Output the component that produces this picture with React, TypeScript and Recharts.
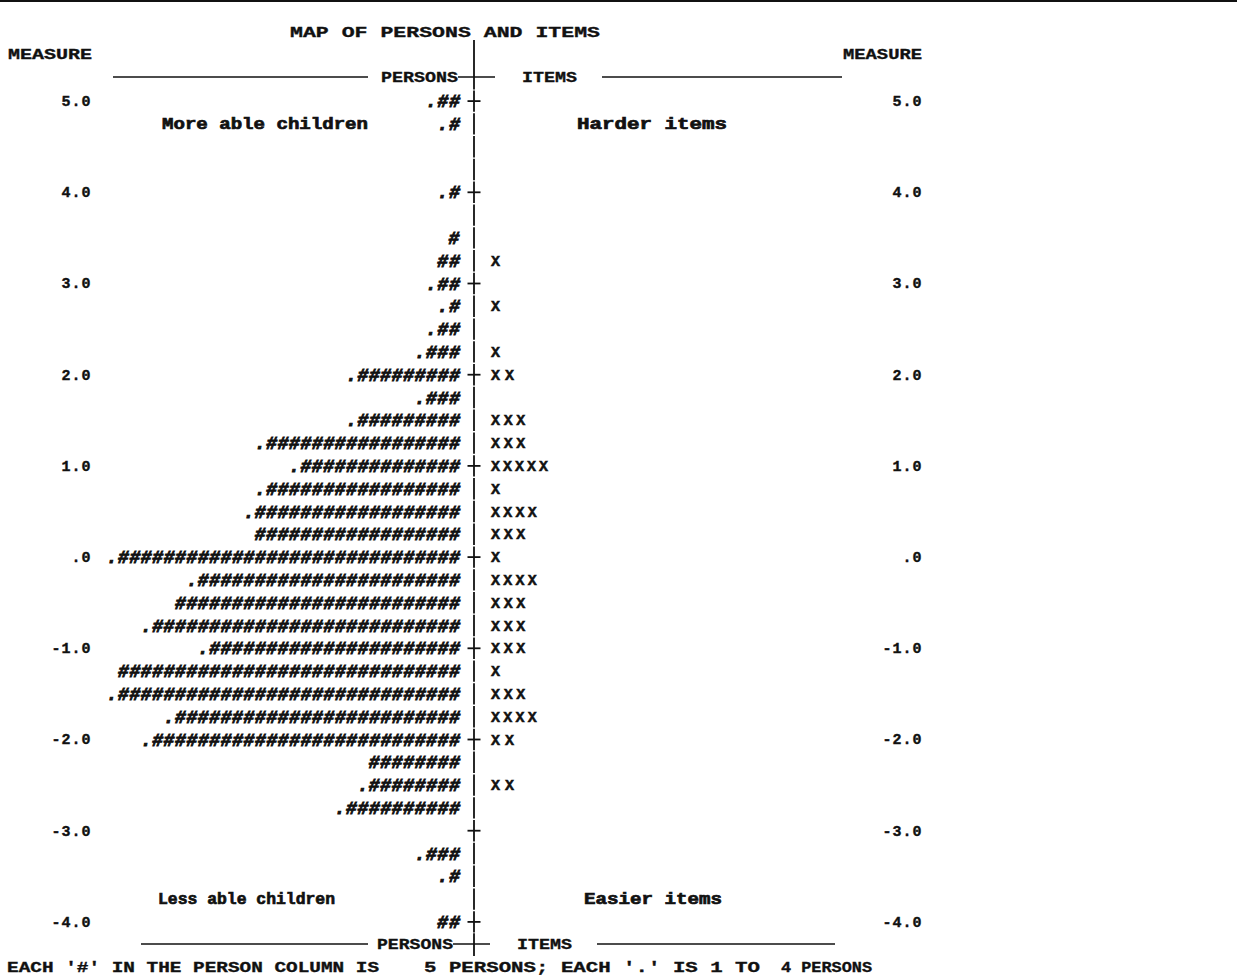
import React from 'react';
import { ComposedChart, Bar, XAxis, YAxis } from 'recharts';

// Measure rows (logits), top to bottom
const measures = [5, 4.75, 4.5, 4.25, 4, 3.75, 3.5, 3.25, 3, 2.75, 2.5, 2.25, 2, 1.75, 1.5, 1.25, 1, 0.75, 0.5, 0.25, 0, -0.25, -0.5, -0.75, -1, -1.25, -1.5, -1.75, -2, -2.25, -2.5, -2.75, -3, -3.25, -3.5, -3.75, -4];
// number of '#' (5 persons each) in the person column
const personHashes = [2, 1, 0, 0, 1, 0, 1, 2, 2, 1, 2, 3, 9, 3, 9, 17, 14, 17, 18, 18, 30, 23, 25, 27, 22, 30, 30, 25, 27, 8, 8, 10, 0, 3, 1, 0, 2];
// whether a '.' (1 to 4 persons) precedes the '#' marks
const personDots = [1, 1, 0, 0, 1, 0, 0, 0, 1, 1, 1, 1, 1, 1, 1, 1, 1, 1, 1, 0, 1, 1, 0, 1, 1, 0, 1, 1, 1, 0, 1, 1, 0, 1, 1, 0, 0];
// number of items ('X') at each measure
const itemCounts = [0, 0, 0, 0, 0, 0, 0, 1, 0, 1, 0, 1, 2, 0, 3, 3, 5, 1, 4, 3, 1, 4, 3, 3, 3, 1, 3, 4, 2, 0, 2, 0, 0, 0, 0, 0, 0];

const GAP_LEFT = -1.23;
const GAP_RIGHT = 1.5;

const rows = measures.map((m, i) => ({
  m,
  gapL: GAP_LEFT,
  persons: -(personHashes[i] + personDots[i]),
  hashes: personHashes[i],
  dots: personDots[i],
  gapR: GAP_RIGHT,
  items: itemCounts[i],
}));

const MONO = "'Liberation Mono', 'DejaVu Sans Mono', monospace";
const INK = '#111';

const fmt = (v: number) => {
  if (!Number.isInteger(v)) return '';
  if (v === 0) return '.0';
  return v.toFixed(1);
};

const LeftTick = (props: any) => {
  const { x, y, payload } = props;
  const s = fmt(payload.value);
  if (!s) return null;
  return (
    <text x={x - 6.3} y={y + 5} textAnchor="end" fontFamily={MONO} fontWeight="bold" fontSize={15} fill={INK} stroke={INK} strokeWidth={0.4} letterSpacing={1}>
      {s}
    </text>
  );
};

const RightTick = (props: any) => {
  const { x, y, payload } = props;
  const s = fmt(payload.value);
  if (!s) return null;
  return (
    <text x={x + 3.9} y={y + 5} textAnchor="end" fontFamily={MONO} fontWeight="bold" fontSize={15} fill={INK} stroke={INK} strokeWidth={0.4} letterSpacing={1}>
      {s}
    </text>
  );
};

// Draws the central "|" / "+" column of the map for each row
const AxisMark = (props: any) => {
  const { x, y, width, height, payload } = props;
  const x0 = Math.max(x, x + width);
  const cy = y + height / 2;
  const isInt = Number.isInteger(payload.m);
  return (
    <g>
      <line x1={x0} x2={x0} y1={y + 0.8} y2={y + height - 0.8} stroke={INK} strokeWidth={1.8} />
      {isInt && <line x1={x0 - 6.5} x2={x0 + 6.5} y1={cy} y2={cy} stroke={INK} strokeWidth={1.8} />}
    </g>
  );
};

const PersonText = (props: any) => {
  const { x, y, width, height, payload } = props;
  const n = payload.hashes + payload.dots;
  if (!n || !width) return null;
  const left = Math.min(x, x + width);
  const w = Math.abs(width);
  const str = (payload.dots ? '.' : '') + '#'.repeat(payload.hashes);
  return (
    <text
      x={left}
      y={y + height / 2 + 6}
      textLength={w}
      lengthAdjust="spacing"
      fontFamily={MONO}
      fontWeight="bold"
      fontStyle="italic"
      fontSize={18}
      fill={INK}
      stroke={INK}
      strokeWidth={0.9}
    >
      {str}
    </text>
  );
};

const ItemText = (props: any) => {
  const { x, y, width, height, payload } = props;
  if (!payload.items || !width) return null;
  const left = Math.min(x, x + width);
  const w = Math.abs(width);
  return (
    <text x={left} y={y + height / 2 + 5} textLength={w} lengthAdjust="spacing" fontFamily={MONO} fontWeight="bold" fontSize={15} fill={INK} stroke={INK} strokeWidth={0.5}>
      {'X'.repeat(payload.items)}
    </text>
  );
};

const Empty = () => null;

const T = (p: { x: number; y: number; w: number; s: string; size?: number; sw?: number }) => (
  <text
    x={p.x}
    y={p.y}
    textLength={p.w}
    lengthAdjust="spacingAndGlyphs"
    fontFamily={MONO}
    fontWeight="bold"
    fontSize={p.size ?? 15}
    fill={INK}
    stroke={INK}
    strokeWidth={p.sw ?? 0.35}
  >
    {p.s}
  </text>
);

export default function App() {
  return (
    <div style={{ position: 'absolute', left: 0, top: 0, width: 1237, height: 979, background: '#fff' }}>
      <ComposedChart
        width={1237}
        height={979}
        layout="vertical"
        data={rows}
        stackOffset="sign"
        barCategoryGap={0}
        barGap={0}
        margin={{ top: 89.6, right: 258.4, bottom: 45.8, left: 0 }}
      >
        <XAxis type="number" domain={[-33, 39]} hide allowDataOverflow />
        <YAxis
          yAxisId="l"
          type="category"
          dataKey="m"
          width={97.8}
          axisLine={false}
          tickLine={false}
          tickSize={0}
          tickMargin={0}
          interval={0}
          tick={<LeftTick />}
        />
        <YAxis
          yAxisId="r"
          orientation="right"
          type="category"
          dataKey="m"
          width={60}
          axisLine={false}
          tickLine={false}
          tickSize={0}
          tickMargin={0}
          interval={0}
          tick={<RightTick />}
        />
        <Bar yAxisId="l" dataKey="gapL" stackId="s" shape={AxisMark} isAnimationActive={false} />
        <Bar yAxisId="l" dataKey="persons" stackId="s" shape={PersonText} isAnimationActive={false} />
        <Bar yAxisId="l" dataKey="gapR" stackId="s" shape={Empty} isAnimationActive={false} />
        <Bar yAxisId="l" dataKey="items" stackId="s" shape={ItemText} isAnimationActive={false} />
      </ComposedChart>
      <svg width={1237} height={979} style={{ position: 'absolute', left: 0, top: 0, pointerEvents: 'none' }}>
        <rect x={0} y={0} width={1237} height={2} fill={INK} />
        <T x={290} y={37} w={310} s="MAP OF PERSONS AND ITEMS" />
        <line x1={474} x2={474} y1={40} y2={89.6} stroke={INK} strokeWidth={1.8} />
        <line x1={474} x2={474} y1={933.2} y2={956} stroke={INK} strokeWidth={1.8} />
        <T x={8} y={59} w={84} s="MEASURE" />
        <T x={843} y={59} w={79} s="MEASURE" />
        {/* header row */}
        <line x1={113} x2={368} y1={77} y2={77} stroke={INK} strokeWidth={1.6} />
        <T x={381} y={82} w={77} s="PERSONS" />
        <line x1={458} x2={495} y1={77} y2={77} stroke={INK} strokeWidth={1.6} />
        <T x={522} y={82} w={55} s="ITEMS" />
        <line x1={602} x2={842} y1={77} y2={77} stroke={INK} strokeWidth={1.6} />
        {/* annotations */}
        <T x={162} y={129} w={206} s="More able children" size={16} sw={0.7} />
        <T x={577} y={129} w={150} s="Harder items" size={16} sw={0.7} />
        <T x={158} y={904} w={177} s="Less able children" size={16} sw={0.7} />
        <T x={584} y={904} w={138} s="Easier items" size={16} sw={0.7} />
        {/* footer row */}
        <line x1={141} x2={368} y1={944} y2={944} stroke={INK} strokeWidth={1.6} />
        <T x={377} y={949} w={76} s="PERSONS" />
        <line x1={453} x2={490} y1={944} y2={944} stroke={INK} strokeWidth={1.6} />
        <T x={517} y={949} w={55} s="ITEMS" />
        <line x1={597} x2={835} y1={944} y2={944} stroke={INK} strokeWidth={1.6} />
        <T x={7} y={972} w={372} s="EACH '#' IN THE PERSON COLUMN IS" />
        <T x={424} y={972} w={336} s="5 PERSONS; EACH '.' IS 1 TO" />
        <T x={781} y={972} w={91} s="4 PERSONS" />
      </svg>
    </div>
  );
}
